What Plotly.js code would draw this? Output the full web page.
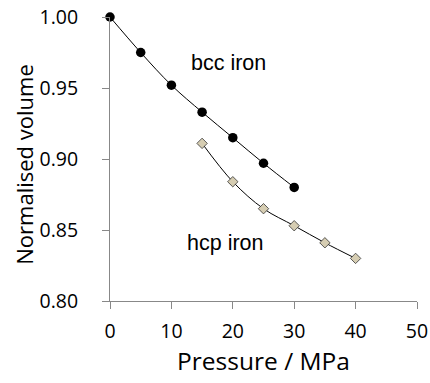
<!DOCTYPE html>
<html><head><meta charset="utf-8">
<script src="https://cdn.plot.ly/plotly-3.0.1.min.js"></script>
<style>html,body{margin:0;padding:0;background:#fff}#c{width:430px;height:383px}</style>
</head><body><div id="c"></div>
<script>
const bccPressure = [0, 5, 10, 15, 20, 25, 30];
const bccVolume = [1.000, 0.975, 0.952, 0.933, 0.915, 0.897, 0.880];
const hcpPressure = [15, 20, 25, 30, 35, 40];
const hcpVolume = [0.911, 0.884, 0.865, 0.853, 0.841, 0.830];
const xTicks = [0, 10, 20, 30, 40, 50];
const yTicks = [0.80, 0.85, 0.90, 0.95, 1.00];

const traces = [
  {x: bccPressure, y: bccVolume, mode: 'lines+markers', type: 'scatter',
   line: {color: '#000', width: 1, shape: 'spline'},
   marker: {symbol: 'circle', size: 9.5, color: '#000'}, cliponaxis: false},
  {x: hcpPressure, y: hcpVolume, mode: 'lines+markers', type: 'scatter',
   line: {color: '#000', width: 1, shape: 'spline'},
   marker: {symbol: 'diamond', size: 8, color: '#d6cdb2', line: {color: '#333', width: 0.8}}, cliponaxis: false}
];
const tickFont = {family: 'Open Sans, sans-serif', size: 19.5, color: '#000'};
const layout = {
  width: 430, height: 383,
  margin: {l: 110, r: 13, t: 17, b: 82},
  paper_bgcolor: '#fff', plot_bgcolor: '#fff',
  showlegend: false,
  xaxis: {range: [0, 50], tickvals: xTicks, ticktext: xTicks.map(String),
    showgrid: false, zeroline: false, showline: true, linecolor: '#888', linewidth: 1,
    ticks: 'outside', ticklen: 7, tickcolor: '#888', tickfont: tickFont, ticklabelstandoff: 6,
    title: {text: 'Pressure / MPa', font: {family: 'Open Sans, sans-serif', size: 24.5, color: '#000'}, standoff: 0}},
  yaxis: {range: [0.80, 1.00], tickvals: yTicks, ticktext: yTicks.map(v => v.toFixed(2)),
    showgrid: false, zeroline: false, showline: true, linecolor: '#888', linewidth: 1,
    ticks: 'outside', ticklen: 7, tickcolor: '#888', tickfont: tickFont, ticklabelstandoff: 20},
  annotations: [
    {xref: 'paper', yref: 'paper', x: -0.28, y: 0.48, xanchor: 'center', yanchor: 'middle',
     text: 'Normalised volume', textangle: -90, showarrow: false,
     font: {family: 'Open Sans, sans-serif', size: 22, color: '#000'}},
    {x: 19.3, y: 0.9675, xref: 'x', yref: 'y', text: 'bcc iron', showarrow: false,
     font: {family: 'Liberation Sans, Arial, sans-serif', size: 21.5, color: '#000'}},
    {x: 18.8, y: 0.8405, xref: 'x', yref: 'y', text: 'hcp iron', showarrow: false,
     font: {family: 'Liberation Sans, Arial, sans-serif', size: 21.5, color: '#000'}}
  ]
};
Plotly.newPlot('c', traces, layout, {displayModeBar: false, staticPlot: true});
</script></body></html>
